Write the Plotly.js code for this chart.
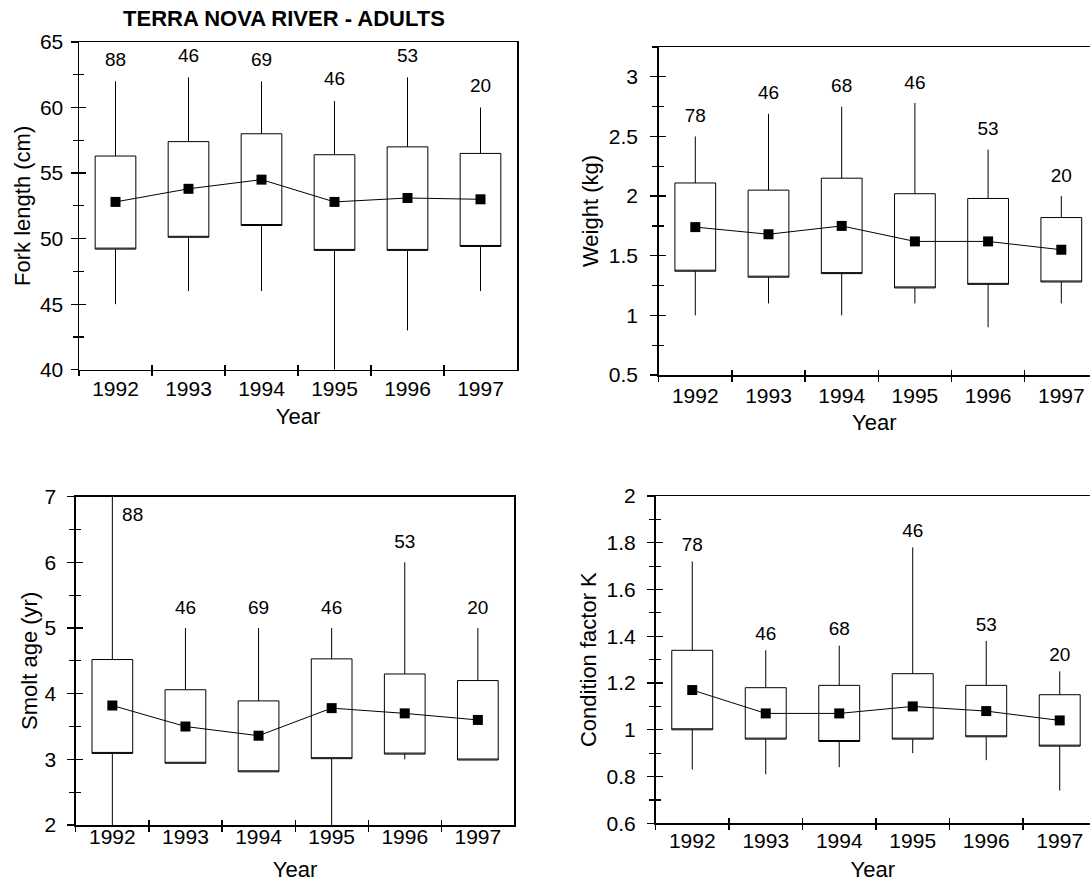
<!DOCTYPE html>
<html>
<head>
<meta charset="utf-8">
<script src="https://cdn.plot.ly/plotly-3.0.1.min.js"></script>
<style>
  html, body { margin: 0; padding: 0; background: #fff; }
  #chart { width: 1090px; height: 883px; }
</style>
</head>
<body>
<div id="chart"></div>
<script>
// ---------------- data ----------------
const years = ['1992', '1993', '1994', '1995', '1996', '1997'];

// Fork length (cm)
const flMin  = [45.0, 46.0, 46.0, 40.0, 43.0, 46.0];
const flQ1   = [49.2, 50.1, 51.0, 49.1, 49.1, 49.4];
const flQ3   = [56.3, 57.4, 58.0, 56.4, 57.0, 56.5];
const flMax  = [62.0, 62.3, 62.0, 60.5, 62.3, 60.0];
const flMean = [52.8, 53.8, 54.5, 52.8, 53.1, 53.0];
const flN    = [88, 46, 69, 46, 53, 20];

// Weight (kg)
const wMin  = [1.00, 1.10, 1.00, 1.10, 0.90, 1.10];
const wQ1   = [1.37, 1.32, 1.35, 1.23, 1.26, 1.28];
const wQ3   = [2.11, 2.05, 2.15, 2.02, 1.98, 1.82];
const wMax  = [2.50, 2.69, 2.75, 2.78, 2.39, 2.00];
const wMean = [1.74, 1.68, 1.75, 1.62, 1.62, 1.55];
const wN    = [78, 46, 68, 46, 53, 20];

// Smolt age (yr)
const sMin  = [2.00, 2.94, 2.81, 2.00, 3.00, 2.99];
const sQ1   = [3.09, 2.94, 2.81, 3.01, 3.08, 2.99];
const sQ3   = [4.52, 4.06, 3.89, 4.53, 4.30, 4.20];
const sMax  = [7.00, 5.00, 5.00, 5.00, 6.00, 5.00];
const sMean = [3.82, 3.50, 3.36, 3.78, 3.70, 3.60];
const sN    = [88, 46, 69, 46, 53, 20];

// Condition factor K
const kMin  = [0.83, 0.81, 0.84, 0.90, 0.87, 0.74];
const kQ1   = [1.00, 0.96, 0.95, 0.96, 0.97, 0.93];
const kQ3   = [1.34, 1.18, 1.19, 1.24, 1.19, 1.15];
const kMax  = [1.72, 1.34, 1.36, 1.78, 1.38, 1.25];
const kMean = [1.17, 1.07, 1.07, 1.10, 1.08, 1.04];
const kN    = [78, 46, 68, 46, 53, 20];

const chartTitle = 'TERRA NOVA RIVER - ADULTS';

// ---------------- layout geometry ----------------
const W = 1090, H = 883;
const FONT = 'Liberation Sans, Arial, Helvetica, sans-serif';

const panels = [
  { min: flMin, q1: flQ1, q3: flQ3, max: flMax, mean: flMean, n: flN,
    ytitle: 'Fork length (cm)', yrange: [40, 65], dtick: 5, minor: 2.5,
    px: [79, 517], py: [42, 369.7], xmax: 5.5, mirrorY: true,
    xstand: 0, ystand: 3, xtitleStand: 9, ytitleStand: 3, labelGap: 16 },
  { min: wMin, q1: wQ1, q3: wQ3, max: wMax, mean: wMean, n: wN,
    ytitle: 'Weight (kg)', yrange: [0.5, 3.25], dtick: 0.5, minor: 0.25,
    px: [658.7, 1090], py: [47, 375], xmax: 5.392, mirrorY: false,
    xstand: 1, ystand: 8, xtitleStand: 9, ytitleStand: 4, labelGap: 14 },
  { min: sMin, q1: sQ1, q3: sQ3, max: sMax, mean: sMean, n: sN,
    ytitle: 'Smolt age (yr)', yrange: [2, 7], dtick: 1, minor: 0.5,
    px: [75.8, 514.4], py: [496.7, 825], xmax: 5.5, mirrorY: true,
    xstand: -8, ystand: 7, xtitleStand: 15, ytitleStand: 0, labelGap: 14 },
  { min: kMin, q1: kQ1, q3: kQ3, max: kMax, mean: kMean, n: kN,
    ytitle: 'Condition factor K', yrange: [0.6, 2], dtick: 0.2, minor: 0.1,
    px: [655.5, 1090], py: [496, 823.3], xmax: 5.412, mirrorY: false,
    xstand: -2, ystand: 7, xtitleStand: 10, ytitleStand: 4, labelGap: 7 }
];

const traces = [];
const layout = {
  width: W, height: H,
  margin: { l: 0, r: 0, t: 0, b: 0 },
  paper_bgcolor: '#ffffff', plot_bgcolor: 'rgba(0,0,0,0)',
  showlegend: false, hovermode: false,
  font: { family: FONT, color: '#000', size: 21 },
  title: {
    text: chartTitle,
    x: 284 / W, xanchor: 'center', xref: 'paper',
    y: 1 - 18 / H, yanchor: 'middle', yref: 'paper',
    font: { family: FONT, size: 22, weight: 700, color: '#000' }
  }
};

const boundaries = years.map((_, i) => i - 0.5).concat([years.length - 0.5]);

panels.forEach((p, k) => {
  const i = k + 1;
  const o = k + 5;
  const xs = i === 1 ? 'x' : 'x' + i;
  const ys = i === 1 ? 'y' : 'y' + i;
  const xo = 'x' + o, yo = 'y' + o;
  const xkey = i === 1 ? 'xaxis' : 'xaxis' + i;
  const ykey = i === 1 ? 'yaxis' : 'yaxis' + i;
  const xdom = [p.px[0] / W, p.px[1] / W];
  const ydom = [1 - p.py[1] / H, 1 - p.py[0] / H];

  // boxes (no median drawn: median placed on the lower quartile edge)
  traces.push({
    type: 'box', x: years, q1: p.q1, median: p.q1, q3: p.q3,
    lowerfence: p.min, upperfence: p.max,
    xaxis: xs, yaxis: ys,
    width: 0.557, whiskerwidth: 0,
    line: { color: '#000', width: 1 },
    fillcolor: 'rgba(255,255,255,0)',
    boxpoints: false, hoverinfo: 'skip'
  });
  // means
  traces.push({
    type: 'scatter', mode: 'lines+markers', x: years, y: p.mean,
    xaxis: xs, yaxis: ys,
    line: { color: '#000', width: 1 },
    marker: { symbol: 'square', size: 10, color: '#000' },
    hoverinfo: 'skip', cliponaxis: false
  });
  // sample sizes above the whiskers (beside it when the whisker reaches the top)
  traces.push({
    type: 'scatter', mode: 'markers+text', x: years, y: p.max,
    xaxis: xs, yaxis: ys,
    text: p.n.map(String),
    textposition: p.max.map(v => v >= p.yrange[1] ? 'bottom right' : 'top center'),
    textfont: { family: FONT, size: 19, color: '#000' },
    marker: { size: p.labelGap, color: 'rgba(0,0,0,0)' },
    hoverinfo: 'skip', cliponaxis: false
  });
  // empty trace to carry the inner-tick overlay axes
  traces.push({ type: 'scatter', mode: 'markers', x: [], y: [], xaxis: xo, yaxis: yo, hoverinfo: 'skip' });

  layout[xkey] = {
    type: 'category', domain: xdom, anchor: ys, range: [-0.5, p.xmax],
    showline: true, mirror: true, linecolor: '#000', linewidth: 1.5,
    ticks: 'outside', tickson: 'boundaries', ticklen: 5, tickwidth: 1.2, tickcolor: '#000',
    showgrid: false, zeroline: false, fixedrange: true,
    tickfont: { family: FONT, size: 21, color: '#000' },
    ticklabelstandoff: p.xstand,
    title: { text: 'Year', font: { family: FONT, size: 22, color: '#000' }, standoff: p.xtitleStand }
  };
  layout[ykey] = {
    domain: ydom, anchor: xs, range: p.yrange, dtick: p.dtick, tick0: 0,
    showline: true, mirror: p.mirrorY, linecolor: '#000', linewidth: 1.5,
    ticks: 'outside', ticklen: 7, tickwidth: 1.2, tickcolor: '#000',
    minor: { dtick: p.minor, tick0: 0, ticks: 'outside', ticklen: 5, tickwidth: 1.2, tickcolor: '#000', showgrid: false },
    showgrid: false, zeroline: false, fixedrange: true,
    tickfont: { family: FONT, size: 21, color: '#000' },
    ticklabelstandoff: p.ystand,
    title: { text: p.ytitle, font: { family: FONT, size: 22, color: '#000' }, standoff: p.ytitleStand }
  };
  // overlay axes: the inner half of each crossing tick
  layout['xaxis' + o] = {
    overlaying: xs, anchor: yo, side: 'bottom', range: [-0.5, p.xmax],
    tickmode: 'array', tickvals: boundaries, ticks: 'inside', ticklen: 5, tickwidth: 1.2, tickcolor: '#000',
    showticklabels: false, showline: false, showgrid: false, zeroline: false, fixedrange: true
  };
  layout['yaxis' + o] = {
    overlaying: ys, anchor: xo, side: 'left', range: p.yrange, dtick: p.dtick, tick0: 0,
    ticks: 'inside', ticklen: 7, tickwidth: 1.2, tickcolor: '#000',
    minor: { dtick: p.minor, tick0: 0, ticks: 'inside', ticklen: 5, tickwidth: 1.2, tickcolor: '#000', showgrid: false },
    showticklabels: false, showline: false, showgrid: false, zeroline: false, fixedrange: true
  };
});

Plotly.newPlot('chart', traces, layout, { staticPlot: true, displayModeBar: false });
</script>
</body>
</html>
